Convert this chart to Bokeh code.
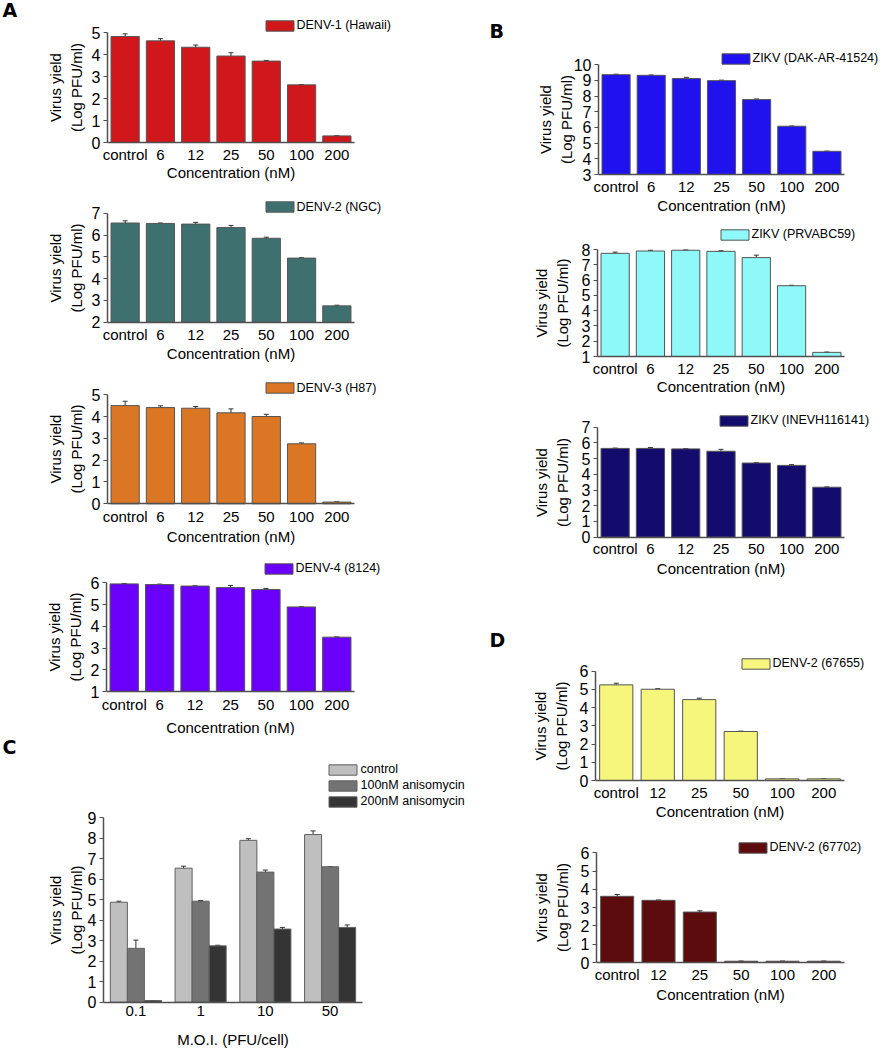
from bokeh.plotting import figure
from bokeh.models import (ColumnDataSource, Range1d, Whisker, TeeHead, Legend, LegendItem,
                          Label, SingleIntervalTicker, FixedTicker)
from bokeh.layouts import column, row
from bokeh.transform import dodge
from bokeh.core.properties import value
from bokeh.embed import file_html
from bokeh.resources import INLINE

FONT = "Liberation Sans"

# ---------------- data ----------------
conc7 = ["control", "6", "12", "25", "50", "100", "200"]
conc6 = ["control", "12", "25", "50", "100", "200"]

denv1 = [4.82, 4.62, 4.33, 3.93, 3.70, 2.62, 0.30]
denv1_err = [0.12, 0.10, 0.10, 0.15, 0.03, 0.01, 0.0]
denv2 = [6.55, 6.53, 6.50, 6.34, 5.85, 4.94, 2.75]
denv2_err = [0.10, 0.02, 0.08, 0.10, 0.05, 0.02, 0.03]
denv3 = [4.50, 4.41, 4.38, 4.17, 4.00, 2.75, 0.08]
denv3_err = [0.20, 0.08, 0.08, 0.18, 0.10, 0.04, 0.0]
denv4 = [5.95, 5.92, 5.85, 5.78, 5.69, 4.89, 3.50]
denv4_err = [0.02, 0.02, 0.01, 0.10, 0.05, 0.01, 0.01]

zikv_dak = [9.37, 9.33, 9.12, 8.99, 7.78, 6.08, 4.48]
zikv_dak_err = [0.03, 0.02, 0.08, 0.03, 0.04, 0.01, 0.01]
zikv_prv = [7.75, 7.90, 7.95, 7.88, 7.47, 5.63, 1.27]
zikv_prv_err = [0.08, 0.05, 0.02, 0.04, 0.16, 0.03, 0.02]
zikv_inev = [5.65, 5.65, 5.62, 5.47, 4.72, 4.57, 3.18]
zikv_inev_err = [0.02, 0.06, 0.01, 0.12, 0.02, 0.05, 0.02]

d67655 = [5.25, 5.01, 4.44, 2.69, 0.09, 0.09]
d67655_err = [0.09, 0.03, 0.08, 0.02, 0.0, 0.0]
d67702 = [3.62, 3.40, 2.76, 0.07, 0.07, 0.07]
d67702_err = [0.10, 0.02, 0.07, 0.0, 0.0, 0.0]

moi = ["0.1", "1", "10", "50"]
moi_series = ["control", "100nM anisomycin", "200nM anisomycin"]
moi_control = [4.88, 6.54, 7.90, 8.18]
moi_control_err = [0.05, 0.10, 0.08, 0.18]
moi_100 = [2.63, 4.93, 6.35, 6.61]
moi_100_err = [0.40, 0.03, 0.10, 0.0]
moi_200 = [0.08, 2.75, 3.57, 3.65]
moi_200_err = [0.0, 0.03, 0.08, 0.12]

y_label = "Virus yield\n(Log PFU/ml)"
x_label_conc = "Concentration (nM)"
x_label_moi = "M.O.I. (PFU/cell)"


# ---------------- helpers ----------------
def base_fig(cats, y0, y1, W, H, ax_l, ax_r, y_top, y_bot, s1x, s2x, s2y, xlab):
    """Frame covers the whole figure; axes are pinned inside it."""
    n = len(cats)
    unit = (ax_r - ax_l) / n
    xr = Range1d(-0.5 - ax_l / unit, -0.5 + (W - ax_l) / unit)
    ppu = (y_bot - y_top) / (y1 - y0)
    yr = Range1d(y0 - (H - y_bot) / ppu, y1 + y_top / ppu)
    p = figure(x_range=xr, y_range=yr, width=W, height=H,
               output_backend="svg", toolbar_location=None, title=None,
               min_border_left=0, min_border_right=0, min_border_top=0,
               min_border_bottom=0)
    p.xgrid.visible = False
    p.ygrid.visible = False
    p.outline_line_color = None
    p.background_fill_color = "white"
    p.border_fill_color = "white"
    for ax in (p.xaxis, p.yaxis):
        ax.axis_line_color = "#505050"
        ax.axis_line_width = 1.5
        ax.major_label_text_font = FONT
        ax.major_label_text_color = "black"
        ax.axis_label_text_font = FONT
        ax.axis_label_text_font_size = "15px"
        ax.axis_label_text_font_style = "normal"
        ax.axis_label_text_color = "black"
        ax.minor_tick_line_color = None
    p.yaxis.major_label_text_font_size = "16px"
    p.xaxis.major_label_text_font_size = "15px"
    p.yaxis.fixed_location = -0.5
    p.yaxis.bounds = (y0, y1)
    p.yaxis.ticker = SingleIntervalTicker(interval=1, num_minor_ticks=0)
    p.yaxis.major_tick_out = 4
    p.yaxis.major_tick_in = 0
    p.yaxis.major_tick_line_color = "#505050"
    p.yaxis.major_label_standoff = 3
    p.yaxis.axis_label = y_label
    p.yaxis.axis_label_standoff = s2y
    p.xaxis.fixed_location = y0
    p.xaxis.bounds = (-0.5, n - 0.5)
    p.xaxis.ticker = FixedTicker(ticks=list(range(n)))
    p.xaxis.major_label_overrides = {i: c for i, c in enumerate(cats)}
    p.xaxis.major_tick_line_color = None
    p.xaxis.major_tick_out = 0
    p.xaxis.major_tick_in = 0
    p.xaxis.major_label_standoff = s1x
    p.xaxis.axis_label = xlab
    p.xaxis.axis_label_standoff = s2x
    return p


def make_legend(items, loc, standoff=0):
    return Legend(items=items, location=loc, orientation="vertical",
                  padding=0, margin=0, spacing=2,
                  border_line_alpha=0, background_fill_alpha=0,
                  glyph_width=35, glyph_height=13, label_height=11,
                  label_standoff=standoff, label_text_font=FONT,
                  label_text_font_size="12.5px", label_text_color="black")


def whisker(src, base):
    return Whisker(source=src, base=base, upper="upper", lower="lower",
                   line_color="#333333", line_width=1,
                   upper_head=TeeHead(size=5, line_color="#333333", line_width=1),
                   lower_head=TeeHead(size=5, line_color="#333333", line_width=1))


def letter(p, txt, x, y):
    p.add_layout(Label(x=x, y=y, x_units="screen", y_units="screen", text=txt,
                       text_font="DejaVu Sans", text_font_style="bold",
                       text_font_size="19px", text_baseline="middle",
                       text_align="left", text_color="black"))


def bar_panel(cats, vals, errs, color, name, y0, y1, W, H, ax_l, ax_r, y_top, y_bot,
              s1x, s2x, s2y, leg_loc):
    p = base_fig(cats, y0, y1, W, H, ax_l, ax_r, y_top, y_bot, s1x, s2x, s2y, x_label_conc)
    src = ColumnDataSource(dict(x=list(range(len(cats))), top=vals,
                                lower=[v - e for v, e in zip(vals, errs)],
                                upper=[v + e for v, e in zip(vals, errs)]))
    r = p.vbar(x="x", top="top", bottom=y0, width=0.8, source=src,
               fill_color=color, line_color="#555555", line_width=1)
    p.add_layout(whisker(src, "x"))
    p.add_layout(make_legend([LegendItem(label=value(name), renderers=[r])], leg_loc))
    return p


LW, RW = 480, 401

# ---------------- panel A (figure-relative pixel layout) ----------------
a1 = bar_panel(conc7, denv1, denv1_err, "#d0181c", "DENV-1 (Hawaii)", 0, 5,
               LW, 192, 107, 354, 32, 142, 3, -2, 4, (261.5, 160))
letter(a1, "A", 2, 183)
a2 = bar_panel(conc7, denv2, denv2_err, "#3e7070", "DENV-2 (NGC)", 2, 7,
               LW, 181, 107, 354, 20.7, 129.7, 4, -2, 4, (261.5, 159.5))
a3 = bar_panel(conc7, denv3, denv3_err, "#db7624", "DENV-3 (H87)", 0, 5,
               LW, 180, 107, 354, 21.2, 130.3, 4, 0, 4, (261.5, 158.5))
a4 = bar_panel(conc7, denv4, denv4_err, "#6a00fa", "DENV-4 (8124)", 1, 6,
               LW, 182, 106, 354, 29.3, 138, 4, 3, 4, (260.5, 160))

# ---------------- panel C ----------------
c = base_fig(moi, 0, 9, LW, 313, 103, 362, 82.3, 266.7, 4, 11, 0, x_label_moi)
c_colors = ["#bfbfbf", "#737373", "#343434"]
c_vals = [moi_control, moi_100, moi_200]
c_errs = [moi_control_err, moi_100_err, moi_200_err]
c_offsets = [-0.263, 0.0, 0.263]
c_items = []
for name, vals, errs, col, off in zip(moi_series, c_vals, c_errs, c_colors, c_offsets):
    src = ColumnDataSource(dict(x=list(range(len(moi))), top=vals,
                                lower=[v - e for v, e in zip(vals, errs)],
                                upper=[v + e for v, e in zip(vals, errs)]))
    r = c.vbar(x=dodge("x", off), top="top", bottom=0, width=0.263,
               source=src, fill_color=col, line_color="#606060", line_width=1)
    c.add_layout(whisker(src, dodge("x", off)))
    c_items.append(LegendItem(label=value(name), renderers=[r]))
c.add_layout(make_legend(c_items, (324.5, 240), standoff=1))
letter(c, "C", 2, 302)

# ---------------- panel B ----------------
b1 = bar_panel(conc7, zikv_dak, zikv_dak_err, "#1f12ee", "ZIKV (DAK-AR-41524)", 3, 10,
               RW, 215, 118, 364, 64.3, 174, 3, -1, -4, (237.5, 150))
letter(b1, "B", 9, 185)
b2 = bar_panel(conc7, zikv_prv, zikv_prv_err, "#8ff8f8", "ZIKV (PRVABC59)", 1, 8,
               RW, 183, 117, 364, 34, 141, 3, -2, 8, (236.5, 157))
b3 = bar_panel(conc7, zikv_inev, zikv_inev_err, "#140c6c", "ZIKV (INEVH116141)", 0, 7,
               RW, 182, 117, 364, 28.7, 138.7, 3, -1, 8, (235.5, 153))

# ---------------- panel D ----------------
d1 = bar_panel(conc6, d67655, d67655_err, "#f6f67c", "DENV-2 (67655)", 0, 6,
               RW, 242, 115, 364, 90.7, 200, 3, -1, 7, (257.5, 152))
letter(d1, "D", 9, 183)
d2 = bar_panel(conc6, d67702, d67702_err, "#5c0c0c", "DENV-2 (67702)", 0, 6,
               RW, 226, 116, 364, 30.3, 140, 3, 0, 7, (254.5, 194))

left = column(a1, a2, a3, a4, c, spacing=0)
right = column(b1, b2, b3, d1, d2, spacing=0)
layout = row(left, right, spacing=0)

open("out.html", "w").write(file_html(layout, INLINE))
